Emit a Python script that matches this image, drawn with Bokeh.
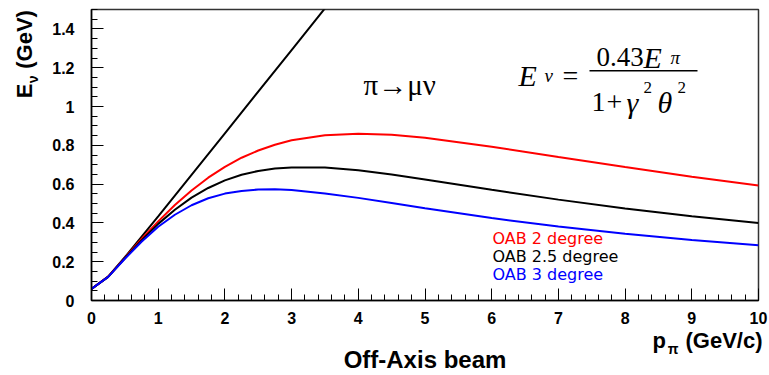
import math
from bokeh.plotting import figure
from bokeh.models import Label, FixedTicker, NumeralTickFormatter, Range1d, LinearAxis
from bokeh.embed import file_html
from bokeh.resources import INLINE

# ---- data ----
p_pi = [0, 0.25, 0.5, 0.75, 1.0, 1.25, 1.5, 1.75, 2.0, 2.25, 2.5, 2.75, 3.0, 3.5,
        4.0, 4.5, 5.0, 6.0, 7.0, 8.0, 9.0, 10.0]
e_nu_2deg = [0.060, 0.123, 0.220, 0.317, 0.408, 0.492, 0.567, 0.633, 0.689, 0.736,
             0.773, 0.803, 0.826, 0.852, 0.860, 0.854, 0.839, 0.793, 0.740, 0.688,
             0.638, 0.593]
e_nu_2p5deg = [0.060, 0.122, 0.218, 0.310, 0.395, 0.468, 0.530, 0.580, 0.619, 0.648,
               0.668, 0.680, 0.686, 0.685, 0.671, 0.649, 0.624, 0.571, 0.520, 0.474,
               0.434, 0.399]
e_nu_3deg = [0.060, 0.122, 0.215, 0.303, 0.380, 0.442, 0.491, 0.527, 0.551, 0.565,
             0.572, 0.573, 0.569, 0.552, 0.529, 0.503, 0.476, 0.425, 0.381, 0.344,
             0.312, 0.285]
on_axis_p = [0, 0.25, 0.5, 1.0, 2.0, 3.0, 3.6]
on_axis_e = [0.060, 0.123, 0.223, 0.434, 0.862, 1.291, 1.549]

x_ticks = [0, 1, 2, 3, 4, 5, 6, 7, 8, 9, 10]
x_minor = [i * 0.2 for i in range(51)]
y_ticks = [0, 0.2, 0.4, 0.6, 0.8, 1.0, 1.2, 1.4]
y_minor = [i * 0.05 for i in range(31)]

legend_labels = ["OAB 2 degree", "OAB 2.5 degree", "OAB 3 degree"]
series_colors = ["#ff0000", "#000000", "#0000ff"]

X0, X1, Y0, Y1 = 0, 10, 0, 1.5
W, H = 769, 375
FL, FR, FT, FB = 91.0, 758.0, 9.0, 301.0   # frame edges in picture pixels

p = figure(width=W, height=H, x_range=Range1d(X0, X1), y_range=Range1d(Y0, Y1),
           output_backend="svg", toolbar_location=None,
           min_border_left=int(FL), min_border_right=int(W - FR),
           min_border_top=int(FT), min_border_bottom=int(H - FB))
p.grid.visible = False
p.outline_line_color = "#333333"
p.outline_line_width = 1.5
p.background_fill_color = "white"
p.border_fill_color = "white"

for ax in (p.xaxis[0], p.yaxis[0]):
    ax.axis_line_color = "black"
    ax.axis_line_width = 1.5
    ax.major_tick_in = 12
    ax.major_tick_out = 0
    ax.minor_tick_in = 6
    ax.minor_tick_out = 0
    ax.major_tick_line_width = 1
    ax.minor_tick_line_width = 1
    ax.major_label_text_font = "Liberation Sans"
    ax.major_label_text_font_style = "bold"
    ax.major_label_text_font_size = "16px"
    ax.major_label_text_color = "black"

p.xaxis.ticker = FixedTicker(ticks=x_ticks, minor_ticks=x_minor)
p.yaxis.ticker = FixedTicker(ticks=y_ticks, minor_ticks=y_minor)
p.yaxis.formatter = NumeralTickFormatter(format="0.[0]")
p.xaxis.major_label_standoff = 11
p.yaxis.major_label_standoff = 17

# curves
p.line(on_axis_p, on_axis_e, line_color="black", line_width=2)
for ys, c in zip([e_nu_2deg, e_nu_2p5deg, e_nu_3deg], series_colors):
    p.line(p_pi, ys, line_color=c, line_width=2)

def X(px):
    return X0 + (px - FL) / (FR - FL) * (X1 - X0)
def Y(py):
    return Y0 + (FB - py) / (FB - FT) * (Y1 - Y0)

def lab(text, px, py, size, font="Liberation Serif", style="normal", color="black",
        align="left", baseline="alphabetic"):
    p.add_layout(Label(x=X(px), y=Y(py), text=text, text_font=font,
                       text_font_style=style, text_font_size=f"{size}px",
                       text_color=color, text_align=align, text_baseline=baseline))

# decay label
lab("π→μν", 363, 85, 29)

# formula
lab("E", 518, 75, 30, style="italic")
lab("ν", 544, 75, 19, style="italic")
lab("=", 562, 75, 28)
lab("0.43", 596, 57, 27)
lab("E", 643, 57, 30, style="italic")
lab("π", 670, 57, 19, style="italic")
p.segment(x0=[X(589)], y0=[Y(70.5)], x1=[X(697)], y1=[Y(70.5)], line_color="black", line_width=1.5)
lab("1", 591, 102, 28)
lab("+", 606, 102, 28)
lab("γ", 626, 102, 30, style="italic")
lab("2", 643, 87, 17)
lab("θ", 657, 102, 30, style="italic")
lab("2", 677, 87, 17)

# legend texts
for t, c, py in zip(legend_labels, series_colors, [238.5, 257.0, 275.0]):
    lab(t, 492, py, 16, font="DejaVu Sans", color=c)

# axis titles drawn as tick labels of extra, invisible axes (outside the frame)
def text_axis(side, ticks, labels, size, standoff, orientation="horizontal"):
    ax = LinearAxis(ticker=FixedTicker(ticks=ticks, minor_ticks=[]),
                    major_label_overrides={t: l for t, l in zip(ticks, labels)},
                    axis_line_color=None, major_tick_line_color=None,
                    minor_tick_line_color=None,
                    major_tick_in=0, major_tick_out=0, minor_tick_in=0, minor_tick_out=0,
                    major_label_standoff=standoff,
                    major_label_text_font="Liberation Sans",
                    major_label_text_font_style="bold",
                    major_label_text_font_size=f"{size}px",
                    major_label_text_color="black",
                    major_label_orientation=orientation)
    p.add_layout(ax, side)

# x title: p_pi (GeV/c)
text_axis("below", [X(658.7), X(723.5)], ["p", "(GeV/c)"], 22, 1)
text_axis("below", [X(672.5)], ["π"], 14, -15)
# chart caption
text_axis("below", [X(424.5)], ["Off-Axis beam"], 24, -14)
# y title: E_nu (GeV)
text_axis("left", [Y(79.0)], ["ν"], 14, 8, "vertical")
text_axis("left", [Y(90.6), Y(39.0)], ["E", "(GeV)"], 22, -15, "vertical")

open("out.html", "w").write(file_html(p, INLINE))
